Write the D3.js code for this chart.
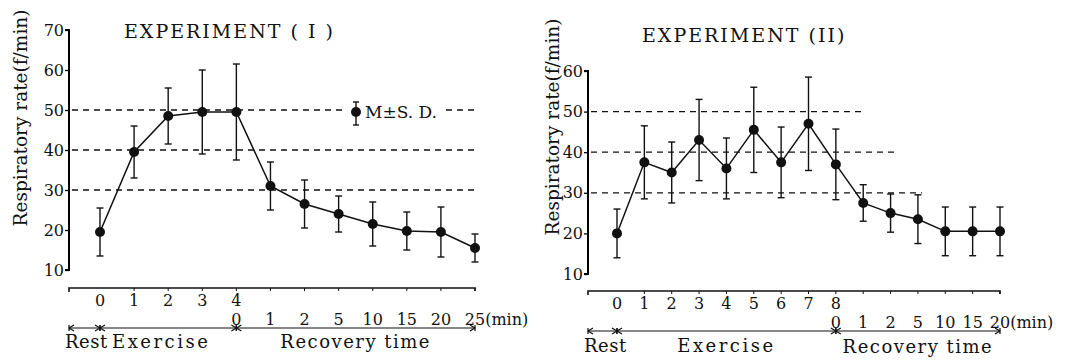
<!DOCTYPE html>
<html lang="en">
<head>
<meta charset="UTF-8">
<title>Respiratory rate - Experiments I and II</title>
<style>
    body { margin: 0; background: #fff; }
    svg text { font-family: "DejaVu Serif", "Liberation Serif", serif; fill: #111; }
    .title { font-size: 19px; letter-spacing: 2px; }
    .ytitle { font-size: 18.5px; }
    .tick text { font-size: 16px; }
    .xlab { font-size: 16px; }
    .phase { font-size: 18px; letter-spacing: 1.5px; }
    .legtext { font-size: 17px; }
    .ref { stroke: #111; stroke-width: 1.3; stroke-dasharray: 6 5; fill: none; }
    .series { stroke: #111; stroke-width: 1.5; fill: none; }
    .err { stroke: #111; stroke-width: 1.4; }
</style>
</head>
<body>
<div id="chart"></div>
<script src="https://d3js.org/d3.v7.min.js"></script>
<script>
    // ---- Experiment (I) ----
    const exp1Cats = ["R0", "E1", "E2", "E3", "E4", "C1", "C2", "C5", "C10", "C15", "C20", "C25"];
    const exp1Mean = [19.5, 39.5, 48.5, 49.5, 49.5, 31, 26.5, 24, 21.5, 19.75, 19.5, 15.5];
    const exp1Sd   = [6, 6.5, 7, 10.5, 12, 6, 6, 4.5, 5.5, 4.75, 6.25, 3.5];
    const exp1ExLabels  = ["0", "1", "2", "3", "4"];
    const exp1RecLabels = ["0", "1", "2", "5", "10", "15", "20", "25"];
    const exp1YTicks = [10, 20, 30, 40, 50, 60, 70];
    const exp1Refs = [50, 40, 30];

    // ---- Experiment (II) ----
    const exp2Cats = ["R0", "E1", "E2", "E3", "E4", "E5", "E6", "E7", "E8", "C1", "C2", "C5", "C10", "C15", "C20"];
    const exp2Mean = [20, 37.5, 35, 43, 36, 45.5, 37.5, 47, 37, 27.5, 25, 23.5, 20.5, 20.5, 20.5];
    const exp2Sd   = [6, 9, 7.5, 10, 7.5, 10.5, 8.7, 11.5, 8.7, 4.5, 4.7, 6, 6, 6, 6];
    const exp2ExLabels  = ["0", "1", "2", "3", "4", "5", "6", "7", "8"];
    const exp2RecLabels = ["0", "1", "2", "5", "10", "15", "20"];
    const exp2YTicks = [10, 20, 30, 40, 50, 60];
    const exp2Refs = [50, 40, 30];

    const svg = d3.select("#chart").append("svg")
        .attr("width", 1065)
        .attr("height", 361);

    function arrowHead(g, x, y, dir) {
        // dir = 1 points right, -1 points left
        g.append("path")
            .attr("d", `M${x - dir * 5},${y - 3}L${x},${y}L${x - dir * 5},${y + 3}M${x},${y - 3}L${x},${y + 3}`)
            .attr("stroke", "#111").attr("stroke-width", 1.2).attr("fill", "none");
    }

    function drawPanel(p) {
        const g = svg.append("g");
        const y = d3.scaleLinear().domain(p.yDomain).range(p.yRange);
        const x = d3.scalePoint().domain(p.cats).range(p.xRange);

        // y axis
        const yAxis = g.append("g")
            .attr("transform", `translate(${p.axisX},0)`)
            .call(d3.axisLeft(y).tickValues(p.yTicks).tickSize(4).tickFormat(d3.format("d")));
        yAxis.select(".domain").attr("stroke-width", 2).attr("d", `M-4,${y(p.yDomain[1])}H0V${y(p.yDomain[0])}H-4`);
        yAxis.selectAll(".tick line").attr("stroke-width", 1.3);
        yAxis.selectAll(".tick text").attr("x", -5);

        g.append("text").attr("class", "ytitle")
            .attr("transform", `translate(${p.yTitleX},${p.yTitleY}) rotate(-90)`)
            .attr("text-anchor", "middle")
            .text("Respiratory rate(f/min)");

        g.append("text").attr("class", "title")
            .attr("x", p.titleX).attr("y", p.titleY)
            .text(p.title);

        // dashed reference lines
        p.refs.forEach((v, i) => {
            g.append("line").attr("class", "ref")
                .attr("x1", p.axisX + 3).attr("x2", p.refEnds[i])
                .attr("y1", y(v)).attr("y2", y(v));
        });

        // legend (experiment I only)
        if (p.legend) {
            const lx = p.legend[0], ly = p.legend[1];
            g.append("rect").attr("x", lx - 12).attr("y", ly - 14).attr("width", 102).attr("height", 28).attr("fill", "#fff");
            g.append("line").attr("class", "err").attr("x1", lx).attr("x2", lx).attr("y1", ly - 10).attr("y2", ly + 13);
            g.append("line").attr("class", "err").attr("x1", lx - 3).attr("x2", lx + 3).attr("y1", ly - 10).attr("y2", ly - 10);
            g.append("line").attr("class", "err").attr("x1", lx - 3).attr("x2", lx + 3).attr("y1", ly + 13).attr("y2", ly + 13);
            g.append("circle").attr("cx", lx).attr("cy", ly).attr("r", 5).attr("fill", "#111");
            g.append("text").attr("class", "legtext").attr("x", lx + 9).attr("y", ly + 6).text("M±S. D.");
        }

        const pts = p.cats.map((c, i) => ({ c: c, m: p.mean[i], s: p.sd[i] }));

        // error bars
        const eb = g.append("g").selectAll("g").data(pts).join("g");
        eb.append("line").attr("class", "err")
            .attr("x1", d => x(d.c)).attr("x2", d => x(d.c))
            .attr("y1", d => y(d.m + d.s)).attr("y2", d => y(d.m - d.s));
        eb.append("line").attr("class", "err")
            .attr("x1", d => x(d.c) - 3.5).attr("x2", d => x(d.c) + 3.5)
            .attr("y1", d => y(d.m + d.s)).attr("y2", d => y(d.m + d.s));
        eb.append("line").attr("class", "err")
            .attr("x1", d => x(d.c) - 3.5).attr("x2", d => x(d.c) + 3.5)
            .attr("y1", d => y(d.m - d.s)).attr("y2", d => y(d.m - d.s));

        g.append("path").datum(pts).attr("class", "series")
            .attr("d", d3.line().x(d => x(d.c)).y(d => y(d.m)));

        g.append("g").selectAll("circle").data(pts).join("circle")
            .attr("cx", d => x(d.c)).attr("cy", d => y(d.m)).attr("r", 5).attr("fill", "#111");

        // time axis
        const nEx = p.exLabels.length;
        const exCats = p.cats.slice(0, nEx);
        const recCats = [p.cats[nEx - 1]].concat(p.cats.slice(nEx));
        const lastX = x(p.cats[p.cats.length - 1]);

        g.append("path")
            .attr("d", `M${p.axisX},${p.timeAxisY + 4}V${p.timeAxisY}H${lastX}V${p.timeAxisY + 3}`)
            .attr("stroke", "#111").attr("stroke-width", 1.6).attr("fill", "none");
        g.append("g").selectAll("line").data(p.cats.slice(1)).join("line")
            .attr("x1", d => x(d)).attr("x2", d => x(d))
            .attr("y1", p.timeAxisY).attr("y2", p.timeAxisY + 3)
            .attr("stroke", "#111").attr("stroke-width", 1);

        g.append("g").selectAll("text").data(exCats).join("text").attr("class", "xlab")
            .attr("x", d => x(d)).attr("y", p.row1Y).attr("text-anchor", "middle")
            .text((d, i) => p.exLabels[i]);
        const recText = g.append("g").selectAll("text").data(recCats).join("text").attr("class", "xlab")
            .attr("x", d => x(d)).attr("y", p.row2Y).attr("text-anchor", "middle")
            .text((d, i) => p.recLabels[i]);
        const bb = recText.nodes().pop().getBBox();
        g.append("text").attr("class", "xlab").attr("x", bb.x + bb.width).attr("y", p.row2Y).text("(min)");

        // phase arrows
        const xR = x(p.cats[0]), xE = x(p.cats[nEx - 1]);
        const ay = p.arrowY;
        g.append("line").attr("x1", p.axisX).attr("x2", lastX).attr("y1", ay).attr("y2", ay)
            .attr("stroke", "#111").attr("stroke-width", 1.2);
        arrowHead(g, p.axisX, ay, -1);
        arrowHead(g, xR, ay, 1);
        arrowHead(g, xR, ay, -1);
        arrowHead(g, xE, ay, 1);
        arrowHead(g, xE, ay, -1);
        arrowHead(g, lastX, ay, 1);

        g.append("text").attr("class", "phase").attr("x", p.axisX - 4).attr("y", p.phaseY)
            .style("letter-spacing", "0.5px").text("Rest");
        g.append("text").attr("class", "phase").attr("x", (xR + xE) / 2 + p.exShift).attr("y", p.phaseY)
            .attr("text-anchor", "middle").style("letter-spacing", "2.5px").text("Exercise");
        g.append("text").attr("class", "phase").attr("x", (xE + lastX) / 2).attr("y", p.recY)
            .attr("text-anchor", "middle").text("Recovery  time");
    }

    drawPanel({
        cats: exp1Cats, mean: exp1Mean, sd: exp1Sd,
        exLabels: exp1ExLabels, recLabels: exp1RecLabels,
        yTicks: exp1YTicks, refs: exp1Refs,
        yDomain: [10, 70], yRange: [270, 30],
        xRange: [100, 475], axisX: 69,
        refEnds: [475, 475, 475],
        legend: [356, 112],
        title: "EXPERIMENT ( I )", titleX: 124, titleY: 38,
        yTitleX: 27, yTitleY: 118,
        timeAxisY: 288, row1Y: 306, row2Y: 325, arrowY: 328, phaseY: 348, recY: 348, exShift: -7
    });

    drawPanel({
        cats: exp2Cats, mean: exp2Mean, sd: exp2Sd,
        exLabels: exp2ExLabels, recLabels: exp2RecLabels,
        yTicks: exp2YTicks, refs: exp2Refs,
        yDomain: [10, 60], yRange: [274, 71],
        xRange: [617, 1000], axisX: 588,
        refEnds: [863, 898, 922],
        legend: null,
        title: "EXPERIMENT (II)", titleX: 642, titleY: 42,
        yTitleX: 559, yTitleY: 127,
        timeAxisY: 291, row1Y: 309, row2Y: 328, arrowY: 331, phaseY: 352, recY: 353, exShift: 0
    });
</script>
</body>
</html>
